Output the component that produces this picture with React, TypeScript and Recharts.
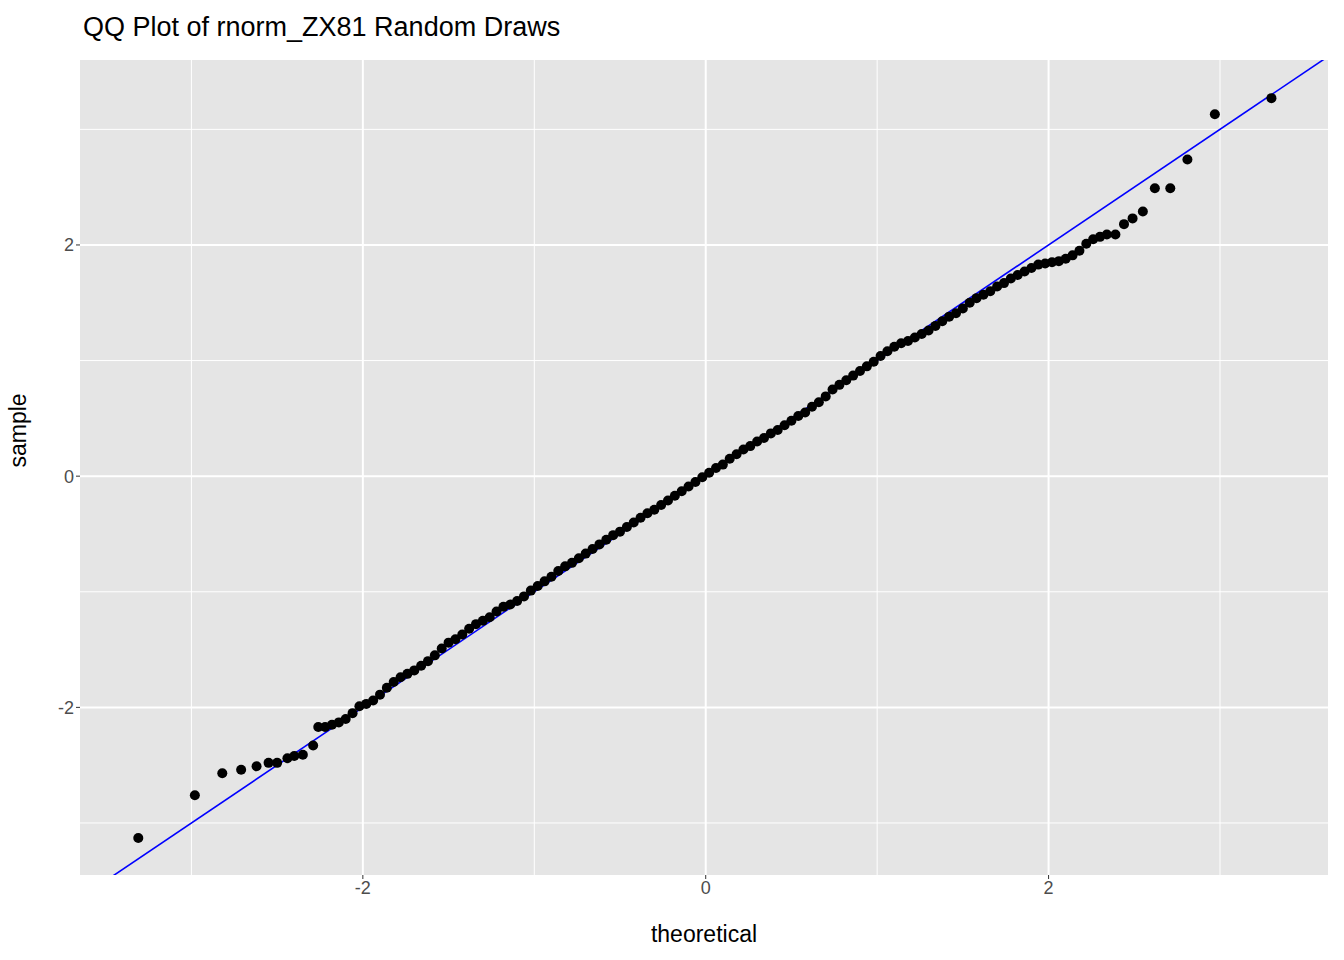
import { ScatterChart, Scatter, XAxis, YAxis, CartesianGrid, ReferenceLine } from 'recharts'

const theoretical = [
  -3.31, -2.98, -2.82, -2.71, -2.62, -2.55, -2.50, -2.44, -2.40, -2.35, -2.29, -2.26,
  -2.22, -2.18, -2.14, -2.10, -2.06, -2.02, -1.98, -1.94, -1.90, -1.86, -1.82, -1.78,
  -1.74, -1.70, -1.66, -1.62, -1.58, -1.54, -1.50, -1.46, -1.42, -1.38, -1.34, -1.30,
  -1.26, -1.22, -1.18, -1.14, -1.10, -1.06, -1.02, -0.98, -0.94, -0.90, -0.86, -0.82,
  -0.78, -0.74, -0.70, -0.66, -0.62, -0.58, -0.54, -0.50, -0.46, -0.42, -0.38, -0.34,
  -0.30, -0.26, -0.22, -0.18, -0.14, -0.10, -0.06, -0.02, 0.02, 0.06, 0.10, 0.14,
  0.18, 0.22, 0.26, 0.30, 0.34, 0.38, 0.42, 0.46, 0.50, 0.54, 0.58, 0.62,
  0.66, 0.70, 0.74, 0.78, 0.82, 0.86, 0.90, 0.94, 0.98, 1.02, 1.06, 1.10,
  1.14, 1.18, 1.22, 1.26, 1.30, 1.34, 1.38, 1.42, 1.46, 1.50, 1.54, 1.58,
  1.62, 1.66, 1.70, 1.74, 1.78, 1.82, 1.86, 1.90, 1.94, 1.98, 2.02, 2.06,
  2.10, 2.14, 2.18, 2.22, 2.26, 2.30,
  2.34, 2.39, 2.44, 2.49, 2.55, 2.62, 2.71, 2.81, 2.97, 3.30,
]

const sample = [
  -3.13, -2.76, -2.57, -2.54, -2.51, -2.48, -2.48, -2.44, -2.42, -2.41, -2.33, -2.17,
  -2.17, -2.15, -2.13, -2.10, -2.05, -1.99, -1.97, -1.94, -1.89, -1.83, -1.78, -1.74,
  -1.71, -1.68, -1.64, -1.60, -1.55, -1.49, -1.44, -1.41, -1.37, -1.32, -1.28, -1.25,
  -1.22, -1.17, -1.13, -1.11, -1.08, -1.04, -0.99, -0.95, -0.91, -0.87, -0.82, -0.78,
  -0.75, -0.71, -0.67, -0.63, -0.59, -0.55, -0.51, -0.48, -0.44, -0.40, -0.36, -0.32,
  -0.29, -0.25, -0.21, -0.17, -0.13, -0.09, -0.05, -0.01, 0.03, 0.07, 0.10, 0.15,
  0.19, 0.23, 0.26, 0.30, 0.33, 0.37, 0.40, 0.44, 0.48, 0.52, 0.55, 0.60,
  0.64, 0.69, 0.75, 0.79, 0.83, 0.87, 0.91, 0.95, 0.99, 1.04, 1.08, 1.12,
  1.15, 1.17, 1.20, 1.23, 1.26, 1.30, 1.34, 1.38, 1.41, 1.45, 1.50, 1.54,
  1.57, 1.60, 1.64, 1.67, 1.71, 1.74, 1.77, 1.80, 1.83, 1.84, 1.85, 1.86,
  1.88, 1.91, 1.95, 2.01, 2.05, 2.07,
  2.09, 2.09, 2.18, 2.23, 2.29, 2.49, 2.49, 2.74, 3.13, 3.27,
]

const majorTicks = [-2, 0, 2]
const minorTicks = [-3, -1, 1, 3]

const points = theoretical.map((x, i) => ({ x, y: sample[i] }))

const font = '"Liberation Sans", Arial, sans-serif'

export default function App() {
  return (
    <div style={{ position: 'absolute', left: 0, top: 0, width: 1344, height: 960, background: '#fff', fontFamily: font }}>
      <div style={{ position: 'absolute', left: 83, top: 12, fontSize: 27, color: '#000' }}>
        QQ Plot of rnorm_ZX81 Random Draws
      </div>
      <ScatterChart width={1344} height={960} margin={{ top: 60, right: 16, left: 0, bottom: 0 }}>
        <CartesianGrid fill="#E5E5E5" stroke="#fff" strokeWidth={2} verticalValues={majorTicks} horizontalValues={majorTicks} />
        {minorTicks.map((v) => (
          <ReferenceLine key={'mx' + v} x={v} stroke="#fff" strokeWidth={1} ifOverflow="hidden" />
        ))}
        {minorTicks.map((v) => (
          <ReferenceLine key={'my' + v} y={v} stroke="#fff" strokeWidth={1} ifOverflow="hidden" />
        ))}
        <XAxis
          type="number"
          dataKey="x"
          domain={[-3.65, 3.63]}
          allowDataOverflow
          ticks={majorTicks}
          height={85}
          axisLine={false}
          tickLine={{ stroke: '#333', strokeWidth: 1 }}
          tickSize={4}
          tick={{ fill: '#4D4D4D', fontSize: 18, fontFamily: font }}
          label={{ value: 'theoretical', position: 'insideBottom', offset: 18, fill: '#000', fontSize: 23, fontFamily: font }}
        />
        <YAxis
          type="number"
          dataKey="y"
          domain={[-3.45, 3.6]}
          allowDataOverflow
          ticks={majorTicks}
          width={80}
          axisLine={false}
          tickLine={{ stroke: '#333', strokeWidth: 1 }}
          tickSize={4}
          tick={{ fill: '#4D4D4D', fontSize: 18, fontFamily: font }}
          label={{ value: 'sample', angle: -90, position: 'insideLeft', offset: 18, fill: '#000', fontSize: 23, fontFamily: font }}
        />
        <Scatter data={points} fill="#000" isAnimationActive={false} shape={(p: any) => <circle cx={p.cx} cy={p.cy} r={5} fill="#000" />} />
        <ReferenceLine segment={[{ x: -3.7, y: -3.7 }, { x: 3.7, y: 3.7 }]} stroke="#0000FF" strokeWidth={1.6} ifOverflow="hidden" />
      </ScatterChart>
    </div>
  )
}
